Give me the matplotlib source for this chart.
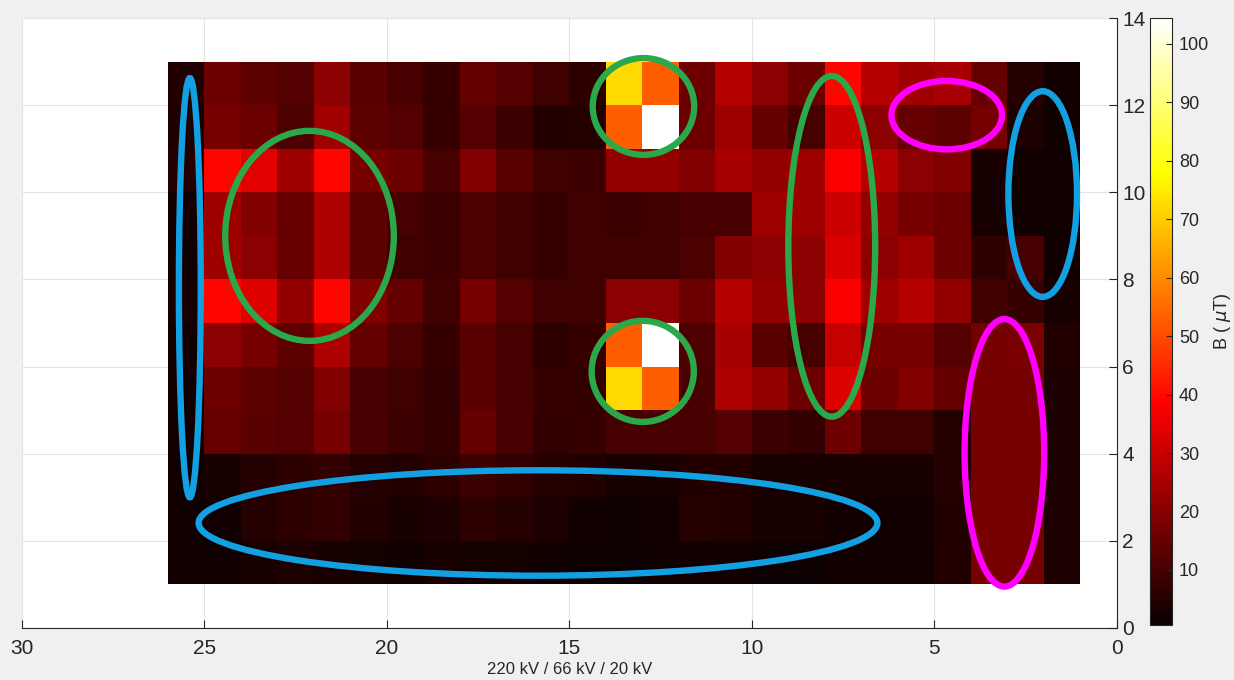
import numpy as np
import matplotlib
matplotlib.use("Agg")
import matplotlib.pyplot as plt
from matplotlib.patches import Ellipse

plt.rcParams['font.family'] = ['Liberation Sans', 'DejaVu Sans']

# Cell edges: columns from x=26 down to x=1, rows from y=13 (top) down to y=1
x_edges = np.arange(26, 0, -1)      # 26 ... 1  (26 edges, 25 columns)
y_edges = np.arange(13, 0, -1)      # 13 ... 1  (13 edges, 12 rows)

# B field values (uT), rows top (y 12-13) to bottom (y 1-2), columns x 26->1
B = np.array([
    [4.5, 16, 13.5, 12, 20.5, 13, 10, 7.5, 14.5, 12, 9, 6, 72, 53, 16, 27, 20.5, 16, 39.5, 27, 23.5, 25, 14.5, 5, 2],
    [3.5, 17.5, 16, 11, 24, 13.5, 12, 7.5, 12, 8.5, 4.5, 5, 53, 104, 16, 23.5, 14.5, 10, 31, 20.5, 15, 13.5, 17.5, 3.5, 1.5],
    [5, 39.5, 34, 23.5, 39.5, 17.5, 16, 10, 19, 13, 9, 8.5, 22, 22, 19, 25, 22, 23.5, 38, 27, 20.5, 19, 3, 2, 1.5],
    [2, 23.5, 19, 15, 26, 13.5, 10, 8.5, 11, 9, 7.5, 9, 8, 9, 10, 10, 23.5, 23.5, 31, 22, 17.5, 16, 3, 1.5, 1.5],
    [2, 23.5, 20.5, 15, 26, 13.5, 9, 8.5, 11, 9, 7.5, 9, 9, 9, 11, 19, 20.5, 20.5, 33, 20.5, 23.5, 16, 6.5, 10, 2],
    [3, 39.5, 33.5, 22, 39.5, 19, 14.5, 9, 17.5, 12, 9, 9, 20.5, 20.5, 16, 27, 22, 20.5, 38, 23.5, 27, 22, 9, 7.5, 3],
    [2, 20.5, 17.5, 13.5, 26, 14.5, 11, 7.5, 13, 10, 6, 7.5, 53, 104, 11, 25, 13, 10, 29.5, 17.5, 17.5, 12, 17, 18, 4.5],
    [2, 16, 13.5, 12, 19, 10.5, 9, 6.7, 13, 10, 7.5, 6.7, 72, 53, 10.5, 26, 22, 16, 33.5, 16, 19, 14.5, 17.5, 17.5, 3.5],
    [2, 15, 13, 12, 17.5, 10.5, 8.5, 6.7, 14.5, 10, 6.7, 7.5, 10, 10.5, 10, 12, 8.5, 6.7, 16, 9, 9, 5, 17.5, 17.5, 3.5],
    [1.5, 3, 5, 6, 6.7, 5, 4.5, 6, 8.5, 6.7, 5, 4.5, 3, 3, 4.5, 4.5, 3, 3, 3, 3, 3, 5, 17.5, 17.5, 3.5],
    [1.5, 2.2, 5, 6, 6.7, 4.5, 3, 3.7, 6, 5, 3.7, 2.2, 1.4, 2.2, 5, 4.5, 3, 3, 2.2, 2.2, 2.2, 4.5, 17.5, 17.5, 3.5],
    [1.5, 1.8, 3, 3.7, 3, 2.5, 1.8, 3, 2.5, 2.5, 1.8, 1.4, 1.4, 1.8, 2.2, 1.8, 1.4, 1.4, 2.2, 1.8, 1.8, 4.5, 17.5, 17.5, 3.7],
])

# Highlight ellipses: (x centre, y centre, width, height, colour)
ellipse_x = [25.4, 15.86, 2.03, 12.97, 12.99, 22.12, 7.81, 4.66, 3.08]
ellipse_y = [7.81, 2.41, 9.96, 11.97, 5.89, 9.0, 8.76, 11.77, 4.02]
ellipse_w = [0.6, 18.6, 1.88, 2.78, 2.8, 4.62, 2.38, 3.03, 2.18]
ellipse_h = [9.62, 2.42, 4.72, 2.22, 2.32, 4.82, 7.82, 1.57, 6.14]
ellipse_c = ['blue', 'blue', 'blue', 'green', 'green', 'green', 'green', 'magenta', 'magenta']
colour_map = {'blue': '#12a0e2', 'green': '#2aa84a', 'magenta': '#ff00ff'}

x_ticks = [0, 5, 10, 15, 20, 25, 30]
y_ticks = [0, 2, 4, 6, 8, 10, 12, 14]
cbar_ticks = [10, 20, 30, 40, 50, 60, 70, 80, 90, 100]
b_min, b_max = 0.6, 104.4

fig = plt.figure(figsize=(12.34, 6.8), dpi=100, facecolor='#f0f0f0')
ax = fig.add_axes([0.0178, 0.0765, 0.8872, 0.897])
ax.set_facecolor('white')

mesh = ax.pcolormesh(x_edges, y_edges, B, cmap='hot', vmin=b_min, vmax=b_max,
                     shading='flat', zorder=2)

for cx, cy, w, h, c in zip(ellipse_x, ellipse_y, ellipse_w, ellipse_h, ellipse_c):
    ax.add_patch(Ellipse((cx, cy), w, h, fill=False, edgecolor=colour_map[c],
                         linewidth=4.6, zorder=3))

ax.set_xlim(30, 0)
ax.set_ylim(0, 14)
ax.set_xticks(x_ticks)
ax.set_yticks(y_ticks)
ax.yaxis.tick_right()
ax.tick_params(axis='both', direction='in', length=6, width=0.8, color='#262626',
               labelsize=15, labelcolor='#262626')
ax.tick_params(axis='y', pad=4)
ax.tick_params(axis='x', pad=8)
ax.grid(True, color='#e3e3e3', linewidth=0.8, zorder=0)
ax.set_axisbelow(True)
for s in ['top', 'left']:
    ax.spines[s].set_visible(False)
for s in ['bottom', 'right']:
    ax.spines[s].set_color('#262626')
    ax.spines[s].set_linewidth(0.8)
ax.set_xlabel('220 kV / 66 kV / 20 kV', fontsize=12, color='#262626', labelpad=3)

cax = fig.add_axes([0.9320, 0.081, 0.0178, 0.8925])
cb = fig.colorbar(mesh, cax=cax, ticks=cbar_ticks)
cb.outline.set_edgecolor('#262626')
cb.outline.set_linewidth(0.8)
cax.tick_params(direction='in', length=4, labelsize=13, color='#262626',
                labelcolor='#262626', pad=5)
cb.set_label(r'B ( $\mu$T)', fontsize=13, color='#262626', labelpad=2)

fig.savefig('out.png', dpi=100, facecolor=fig.get_facecolor())
